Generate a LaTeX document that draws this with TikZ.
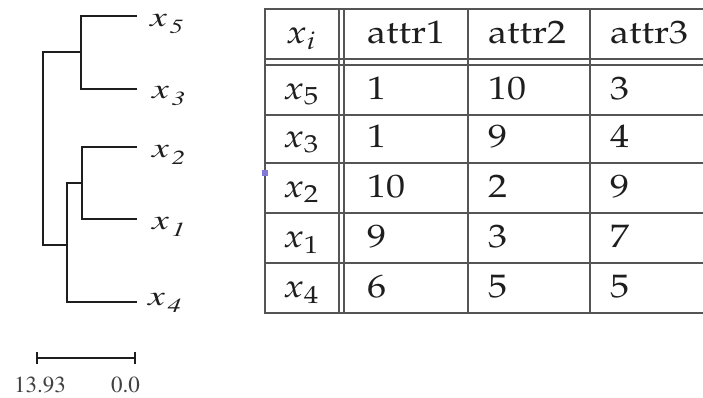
\documentclass[tikz,border=0pt]{standalone}
\usepackage[T1]{fontenc}
\usepackage{mathpazo}
\usepackage{graphicx}
\definecolor{gridc}{RGB}{85,85,85}
\definecolor{inkc}{RGB}{30,30,30}
\definecolor{markc}{RGB}{130,120,215}
\newcommand{\tabtxt}[1]{\scalebox{1.17}[1]{\fontsize{32.5}{38}\selectfont #1}}
\newcommand{\leaflab}[1]{\scalebox{1.35}[1]{\fontfamily{ptm}\fontsize{28}{32}\selectfont\itshape x\kern2pt\raisebox{-7pt}{\fontsize{20}{22}\selectfont #1}}}
\newcommand{\scaletxt}[1]{{\fontfamily{ptm}\fontsize{23}{26}\selectfont #1}}
\begin{document}
\begin{tikzpicture}[x=1pt,y=-1pt,
  gridline/.style={draw=gridc,line width=1.2pt},
  treeline/.style={draw=inkc,line width=1.3pt},
  celltext/.style={anchor=base west,inner sep=0pt,text=inkc},
  idtext/.style={anchor=base,inner sep=0pt,text=inkc},
  leaftext/.style={anchor=base west,inner sep=0pt,text=inkc},
  scaletext/.style={anchor=base west,inner sep=0pt,text=black!75}]
\useasboundingbox[fill=white] (0,0) rectangle (703,397);

% ---------- table grid ----------
\draw[gridline] (703,9) -- (265,9) -- (265,313) -- (703,313);
\draw[gridline] (265,59) -- (703,59);
\draw[gridline] (265,65) -- (703,65);
\foreach \yy in {115,163,213,263}{\draw[gridline] (265,\yy) -- (703,\yy);}
\draw[gridline] (339,9) -- (339,313);
\draw[gridline] (344,9) -- (344,313);
\draw[gridline] (468,9) -- (468,313);
\draw[gridline] (590,9) -- (590,313);

% ---------- table text ----------
\node[idtext] (hid) at (301,43) {\tabtxt{$x_i$}};
\node[celltext] (ha1) at (367,43) {\tabtxt{attr1}};
\node[celltext] (ha2) at (488,43) {\tabtxt{attr2}};
\node[celltext] (ha3) at (610,43) {\tabtxt{attr3}};

\node[idtext] (r1id) at (301,99) {\tabtxt{$x_5$}};
\node[celltext] (r1a) at (367,99) {\tabtxt{1}};
\node[celltext] (r1b) at (488,99) {\tabtxt{10}};
\node[celltext] (r1c) at (610,99) {\tabtxt{3}};

\node[idtext] (r2id) at (301,147) {\tabtxt{$x_3$}};
\node[celltext] (r2a) at (367,147) {\tabtxt{1}};
\node[celltext] (r2b) at (488,147) {\tabtxt{9}};
\node[celltext] (r2c) at (610,147) {\tabtxt{4}};

\node[idtext] (r3id) at (301,197) {\tabtxt{$x_2$}};
\node[celltext] (r3a) at (367,197) {\tabtxt{10}};
\node[celltext] (r3b) at (488,197) {\tabtxt{2}};
\node[celltext] (r3c) at (610,197) {\tabtxt{9}};

\node[idtext] (r4id) at (301,247) {\tabtxt{$x_1$}};
\node[celltext] (r4a) at (367,247) {\tabtxt{9}};
\node[celltext] (r4b) at (488,247) {\tabtxt{3}};
\node[celltext] (r4c) at (610,247) {\tabtxt{7}};

\node[idtext] (r5id) at (301,297) {\tabtxt{$x_4$}};
\node[celltext] (r5a) at (367,297) {\tabtxt{6}};
\node[celltext] (r5b) at (488,297) {\tabtxt{5}};
\node[celltext] (r5c) at (610,297) {\tabtxt{5}};

% small marker
\fill[markc] (262,170) rectangle (268,176);

% ---------- dendrogram ----------
\coordinate (l5) at (137,16);
\coordinate (l3) at (137,89);
\coordinate (l2) at (137,147);
\coordinate (l1) at (137,219);
\coordinate (l4) at (137,302);
\coordinate (m53) at (81,52);
\coordinate (m21) at (82,183);
\coordinate (m214) at (67,245);
\coordinate (root) at (43,148);

\draw[treeline] (l5) -| (m53) |- (l3);
\draw[treeline] (l2) -| (m21) |- (l1);
\draw[treeline] (m21) -- (m214 |- m21) |- (l4);
\draw[treeline] (m53) -- (root |- m53) |- (m214);

\node[leaftext] (t5) at (150,26) {\leaflab{5}};
\node[leaftext] (t3) at (152,98) {\leaflab{3}};
\node[leaftext] (t2) at (152,157) {\leaflab{2}};
\node[leaftext] (t1) at (152,229) {\leaflab{1}};
\node[leaftext] (t4) at (148,305) {\leaflab{4}};

% ---------- scale bar ----------
\coordinate (sbl) at (37,358);
\coordinate (sbr) at (135,358);
\draw[treeline,line width=1.1pt] (sbl) -- (sbr);
\draw[treeline,line width=1.1pt] ([yshift=-6pt]sbl) -- ([yshift=6pt]sbl);
\draw[treeline,line width=1.1pt] ([yshift=-6pt]sbr) -- ([yshift=6pt]sbr);
\node[scaletext] (s1) at (14,392) {\scaletxt{13.93}};
\node[scaletext] (s0) at (111,392) {\scaletxt{0.0}};
\end{tikzpicture}
\end{document}
